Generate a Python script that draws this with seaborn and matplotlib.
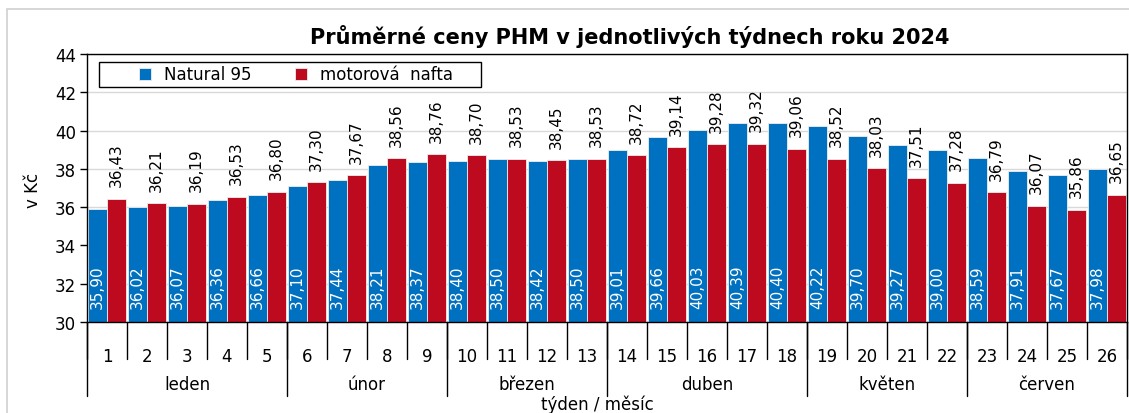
import pandas as pd
import seaborn as sns
import matplotlib.pyplot as plt
from matplotlib.patches import Rectangle

weeks = [str(i) for i in range(1, 27)]
natural95 = [35.90, 36.02, 36.07, 36.36, 36.66, 37.10, 37.44, 38.21, 38.37, 38.40,
             38.50, 38.42, 38.50, 39.01, 39.66, 40.03, 40.39, 40.40, 40.22, 39.70,
             39.27, 39.00, 38.59, 37.91, 37.67, 37.98]
nafta = [36.43, 36.21, 36.19, 36.53, 36.80, 37.30, 37.67, 38.56, 38.76, 38.70,
         38.53, 38.45, 38.53, 38.72, 39.14, 39.28, 39.32, 39.06, 38.52, 38.03,
         37.51, 37.28, 36.79, 36.07, 35.86, 36.65]
months = ['leden', 'únor', 'březen', 'duben', 'květen', 'červen']
weeks_in_month = [5, 4, 4, 5, 4, 4]
series = ['Natural 95', 'motorová  nafta']

blue = '#0070C0'
red = '#BE0A1E'


def fmt(v):
    """czech decimal comma"""
    return f'{v:.2f}'.replace('.', ',')


df = pd.DataFrame({
    'tyden': weeks * 2,
    'cena': natural95 + nafta,
    'palivo': [series[0]] * len(weeks) + [series[1]] * len(weeks),
})

sns.set_style('white')
plt.rcParams['font.family'] = ['DejaVu Sans']
plt.rcParams.update({'text.color': 'black', 'axes.labelcolor': 'black',
                     'xtick.color': 'black', 'ytick.color': 'black'})

fig = plt.figure(figsize=(11.29, 4.14), dpi=100)
ax = fig.add_axes([87 / 1129, 91 / 414, 1040 / 1129, 268 / 414])

# light outer frame of the chart
fig.patches.append(Rectangle((7 / 1129, -0.1), 1.2, 0.1 + 1 - 10 / 414, transform=fig.transFigure,
                             fill=False, edgecolor='#D0D0D0', linewidth=1.2))

sns.barplot(data=df, x='tyden', y='cena', hue='palivo', order=weeks, hue_order=series,
            palette=[blue, red], saturation=1, width=0.95, edgecolor='#EEEEEE', linewidth=0.6,
            ax=ax, zorder=2)

ax.set_ylim(30, 44)
ax.set_xlim(-0.5, 25.5)
ax.set_yticks(range(30, 45, 2))
ax.yaxis.grid(True, color='#D9D9D9', linewidth=1, zorder=0)
ax.set_axisbelow(True)
for s in ax.spines.values():
    s.set_color('black')
    s.set_linewidth(1)
ax.tick_params(axis='y', left=True, length=5, width=1, color='black', labelsize=12, pad=3)
ax.set_xticks(range(len(weeks)))
ax.set_xticklabels(weeks)
ax.tick_params(axis='x', bottom=False, length=0, labelsize=12, pad=18)
ax.set_xlabel('')
ax.set_ylabel('')

# data labels
blue_bars, red_bars = ax.containers[0], ax.containers[1]
for bar, v in zip(blue_bars, natural95):
    ax.text(bar.get_x() + bar.get_width() / 2, 30.75, fmt(v), rotation=90, ha='center', va='bottom',
            color='white', fontsize=11, zorder=3)
ax.bar_label(red_bars, labels=[fmt(v) for v in nafta], rotation=90, padding=9, fontsize=11, color='black')

# category separators below the axis
tr = ax.get_xaxis_transform()
for i in range(len(weeks) + 1):
    ax.plot([i - 0.5, i - 0.5], [0, -0.138], color='black', lw=1, transform=tr, clip_on=False)
start = 0
for m, n in zip(months, weeks_in_month):
    ax.plot([start - 0.5, start - 0.5], [0, -0.276], color='black', lw=1, transform=tr, clip_on=False)
    ax.text(start + (n - 1) / 2, -0.231, m, ha='center', va='center', fontsize=12, transform=tr)
    start += n
ax.plot([start - 0.5, start - 0.5], [0, -0.276], color='black', lw=1, transform=tr, clip_on=False)

# legend: entries centred inside a wider box
ax.add_patch(Rectangle((12 / 1040, (323 - 88) / 268), 382 / 1040, 25 / 268, transform=ax.transAxes,
                       facecolor='white', edgecolor='black', linewidth=1, zorder=4))
leg = ax.legend(loc='center', bbox_to_anchor=(209 / 1040, (323 - 75.5) / 268), ncol=2, frameon=False,
                fontsize=12, handlelength=0.7, handleheight=0.7, columnspacing=2.6, borderaxespad=0,
                borderpad=0.2, title=None)
leg.set_zorder(5)

fig.text(630 / 1129, 1 - 37 / 414, 'Průměrné ceny PHM v jednotlivých týdnech roku 2024',
         ha='center', va='center', fontsize=15, fontweight='bold')
fig.text(33 / 1129, 1 - 190 / 414, 'v Kč', rotation=90, ha='center', va='center', fontsize=12)
fig.text(597 / 1129, 1 - 405 / 414, 'týden / měsíc', ha='center', va='center', fontsize=12)

fig.savefig('out.png', dpi=100)
